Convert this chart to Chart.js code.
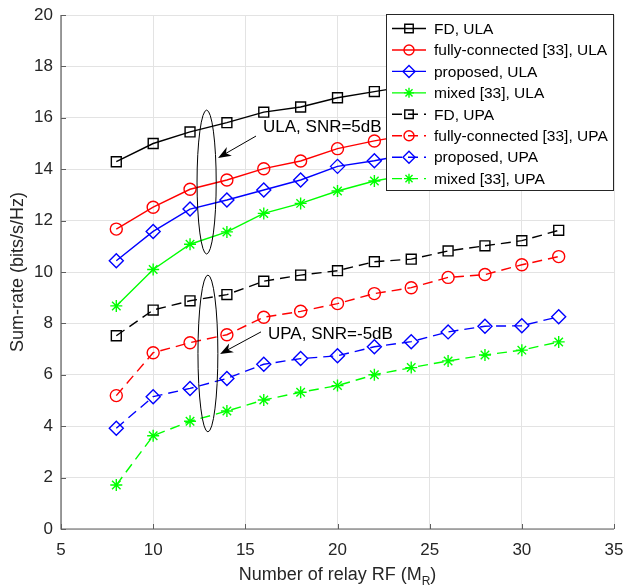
<!DOCTYPE html>
<html>
<head>
<meta charset="utf-8">
<script src="https://cdn.jsdelivr.net/npm/chart.js@4.4.0/dist/chart.umd.min.js"></script>
<style>
  html, body { margin: 0; padding: 0; background: #fff; }
  #wrap { width: 627px; height: 587px; }
</style>
</head>
<body>
<div id="wrap"><canvas id="myChart" width="627" height="587"></canvas></div>
<script>
const relayRF = [8, 10, 12, 14, 16, 18, 20, 22, 24, 26, 28, 30, 32];

// SNR = 5 dB, ULA (right part sits behind the legend box)
const fdULA    = [14.29, 15.00, 15.45, 15.81, 16.22, 16.42, 16.78, 17.02, 17.25, 17.45, 17.65, 17.85, 18.05];
const fullULA  = [11.67, 12.52, 13.22, 13.58, 14.02, 14.32, 14.80, 15.10, 15.35, 15.60, 15.85, 16.05, 16.30];
const propULA  = [10.44, 11.58, 12.45, 12.80, 13.19, 13.58, 14.11, 14.33, 14.60, 14.85, 15.05, 15.25, 15.45];
const mixedULA = [8.68, 10.10, 11.08, 11.56, 12.28, 12.67, 13.15, 13.54, 13.80, 14.00, 14.20, 14.40, 14.60];

// SNR = -5 dB, UPA
const fdUPA    = [7.52, 8.52, 8.88, 9.12, 9.64, 9.88, 10.05, 10.40, 10.50, 10.82, 11.02, 11.22, 11.62];
const fullUPA  = [5.19, 6.86, 7.25, 7.56, 8.24, 8.47, 8.77, 9.16, 9.39, 9.79, 9.90, 10.28, 10.60];
const propUPA  = [3.92, 5.15, 5.47, 5.86, 6.41, 6.63, 6.74, 7.09, 7.29, 7.67, 7.89, 7.91, 8.26];
const mixedUPA = [1.71, 3.63, 4.19, 4.59, 5.02, 5.32, 5.58, 6.00, 6.28, 6.54, 6.77, 6.96, 7.28];

const seriesLabels = [
  'FD, ULA', 'fully-connected [33], ULA', 'proposed, ULA', 'mixed [33], ULA',
  'FD, UPA', 'fully-connected [33], UPA', 'proposed, UPA', 'mixed [33], UPA'
];
const seriesValues = [fdULA, fullULA, propULA, mixedULA, fdUPA, fullUPA, propUPA, mixedUPA];

const xTitle = 'Number of relay RF (M';
const xTitleSub = 'R';
const yTitle = 'Sum-rate (bits/s/Hz)';
const notes = [
  { text: 'ULA, SNR=5dB', at: [15.96, 15.64], from: [15.58, 15.29], to: [13.52, 14.44], ellipse: [12.9, 13.5, 0.52, 2.8] },
  { text: 'UPA, SNR=-5dB', at: [16.23, 7.59], from: [15.85, 7.67], to: [13.63, 6.81], ellipse: [12.97, 6.83, 0.54, 3.05] }
];

const colors = ['#000000', '#ff0000', '#0000ff', '#00ff00'];
const markers = [
  { pointStyle: 'rect', radius: 7 },
  { pointStyle: 'circle', radius: 6 },
  { pointStyle: 'rectRot', radius: 7 },
  { pointStyle: 'star', radius: 6 }
];
const FONT = "'Liberation Sans', Arial, sans-serif";

const datasets = seriesValues.map((vals, i) => {
  const k = i % 4;
  const dashed = i >= 4;
  return {
    label: seriesLabels[i],
    data: vals.map((v, j) => ({ x: relayRF[j], y: v })),
    borderColor: colors[k],
    borderWidth: 1.4,
    borderDash: dashed ? [10, 6] : [],
    pointStyle: markers[k].pointStyle,
    pointRadius: markers[k].radius,
    pointBorderColor: colors[k],
    pointBackgroundColor: 'rgba(0,0,0,0)',
    pointBorderWidth: 1.4,
    fill: false,
    tension: 0
  };
});

const overlay = {
  id: 'overlay',
  afterDraw(chart) {
    const { ctx, chartArea: a, scales: { x, y } } = chart;
    const px = v => x.getPixelForValue(v);
    const py = v => y.getPixelForValue(v);
    ctx.save();

    // axes (box off) with inward ticks
    ctx.strokeStyle = '#5e5e5e';
    ctx.lineWidth = 1.2;
    ctx.setLineDash([]);
    ctx.beginPath();
    ctx.moveTo(a.left, a.top);
    ctx.lineTo(a.left, a.bottom);
    ctx.lineTo(a.right, a.bottom);
    ctx.stroke();
    ctx.lineWidth = 1;
    ctx.beginPath();
    y.ticks.forEach(t => {
      const yy = Math.round(py(t.value)) + 0.5;
      ctx.moveTo(a.left, yy); ctx.lineTo(a.left + 5, yy);
    });
    x.ticks.forEach(t => {
      const xx = Math.round(px(t.value)) + 0.5;
      ctx.moveTo(xx, a.bottom); ctx.lineTo(xx, a.bottom - 5);
    });
    ctx.stroke();

    // axis titles
    ctx.fillStyle = '#262626';
    ctx.font = '18px ' + FONT;
    ctx.textBaseline = 'alphabetic';
    const w1 = ctx.measureText(xTitle).width;
    ctx.font = '12px ' + FONT;
    const w2 = ctx.measureText(xTitleSub).width;
    ctx.font = '18px ' + FONT;
    const w3 = ctx.measureText(')').width;
    let tx = (a.left + a.right) / 2 - (w1 + w2 + w3) / 2;
    const base = 580;
    ctx.textAlign = 'left';
    ctx.fillText(xTitle, tx, base);
    ctx.font = '12px ' + FONT;
    ctx.fillText(xTitleSub, tx + w1, base + 5);
    ctx.font = '18px ' + FONT;
    ctx.fillText(')', tx + w1 + w2, base);

    ctx.save();
    ctx.translate(18, (a.top + a.bottom) / 2);
    ctx.rotate(-Math.PI / 2);
    ctx.textAlign = 'center';
    ctx.textBaseline = 'middle';
    ctx.fillText(yTitle, 0, 0);
    ctx.restore();

    // annotations: ellipse, arrow, label
    notes.forEach(n => {
      const [cx, cy, rx, ry] = n.ellipse;
      ctx.strokeStyle = '#000';
      ctx.lineWidth = 1;
      ctx.beginPath();
      ctx.ellipse(px(cx), py(cy), px(cx + rx) - px(cx), py(cy) - py(cy + ry), 0, 0, Math.PI * 2);
      ctx.stroke();

      const x0 = px(n.from[0]), y0 = py(n.from[1]);
      const x1 = px(n.to[0]), y1 = py(n.to[1]);
      const ang = Math.atan2(y1 - y0, x1 - x0);
      const L = 13, W = 5;
      ctx.beginPath();
      ctx.moveTo(x0, y0);
      ctx.lineTo(x1 - Math.cos(ang) * 8, y1 - Math.sin(ang) * 8);
      ctx.stroke();
      ctx.fillStyle = '#000';
      ctx.beginPath();
      ctx.moveTo(x1, y1);
      const bx = x1 - Math.cos(ang) * L, by = y1 - Math.sin(ang) * L;
      ctx.lineTo(bx + Math.sin(ang) * W, by - Math.cos(ang) * W);
      ctx.lineTo(x1 - Math.cos(ang) * L * 0.7, y1 - Math.sin(ang) * L * 0.7);
      ctx.lineTo(bx - Math.sin(ang) * W, by + Math.cos(ang) * W);
      ctx.closePath();
      ctx.fill();

      ctx.font = '17px ' + FONT;
      ctx.textAlign = 'left';
      ctx.textBaseline = 'middle';
      ctx.fillText(n.text, px(n.at[0]), py(n.at[1]));
    });

    // legend box in the top right corner
    const boxL = 386, boxT = a.top - 1, boxR = a.right, boxB = 190;
    ctx.fillStyle = '#fff';
    ctx.fillRect(boxL, boxT, boxR - boxL, boxB - boxT);
    ctx.strokeStyle = '#262626';
    ctx.lineWidth = 1;
    ctx.strokeRect(boxL + 0.5, boxT + 0.5, boxR - boxL - 1, boxB - boxT);
    chart.data.datasets.forEach((ds, i) => {
      const rowY = 28.5 + i * 21.45;
      ctx.strokeStyle = ds.borderColor;
      ctx.lineWidth = ds.borderWidth;
      ctx.setLineDash(ds.borderDash);
      ctx.beginPath();
      ctx.moveTo(392, rowY); ctx.lineTo(426, rowY);
      ctx.stroke();
      ctx.setLineDash([]);
      ctx.fillStyle = 'rgba(0,0,0,0)';
      Chart.helpers.drawPoint(ctx, {
        pointStyle: ds.pointStyle, radius: ds.pointRadius - 1, rotation: 0, borderWidth: 1.3
      }, 409, rowY);
      ctx.fillStyle = '#000';
      ctx.font = '15.5px ' + FONT;
      ctx.textAlign = 'left';
      ctx.textBaseline = 'middle';
      ctx.fillText(ds.label, 434, rowY + 1);
    });

    ctx.restore();
  }
};

const ctx = document.getElementById('myChart').getContext('2d');
new Chart(ctx, {
  type: 'line',
  data: { datasets },
  options: {
    responsive: false,
    animation: false,
    devicePixelRatio: 1,
    layout: { padding: { left: 0, top: 15, right: 13, bottom: 0 } },
    plugins: { legend: { display: false }, tooltip: { enabled: false } },
    scales: {
      x: {
        type: 'linear', min: 5, max: 35,
        ticks: { stepSize: 5, color: '#262626', padding: 11, font: { family: FONT, size: 17 } },
        grid: { color: '#e3e3e3', drawTicks: false },
        border: { display: false },
        afterFit: s => { s.height = 58; s.paddingLeft = 0; s.paddingRight = 0; }
      },
      y: {
        min: 0, max: 20,
        ticks: { stepSize: 2, color: '#262626', padding: 8, font: { family: FONT, size: 17 } },
        grid: { color: '#e3e3e3', drawTicks: false },
        border: { display: false },
        afterFit: s => { s.width = 61; s.paddingTop = 0; s.paddingBottom = 0; }
      }
    }
  },
  plugins: [overlay]
});
</script>
</body>
</html>
